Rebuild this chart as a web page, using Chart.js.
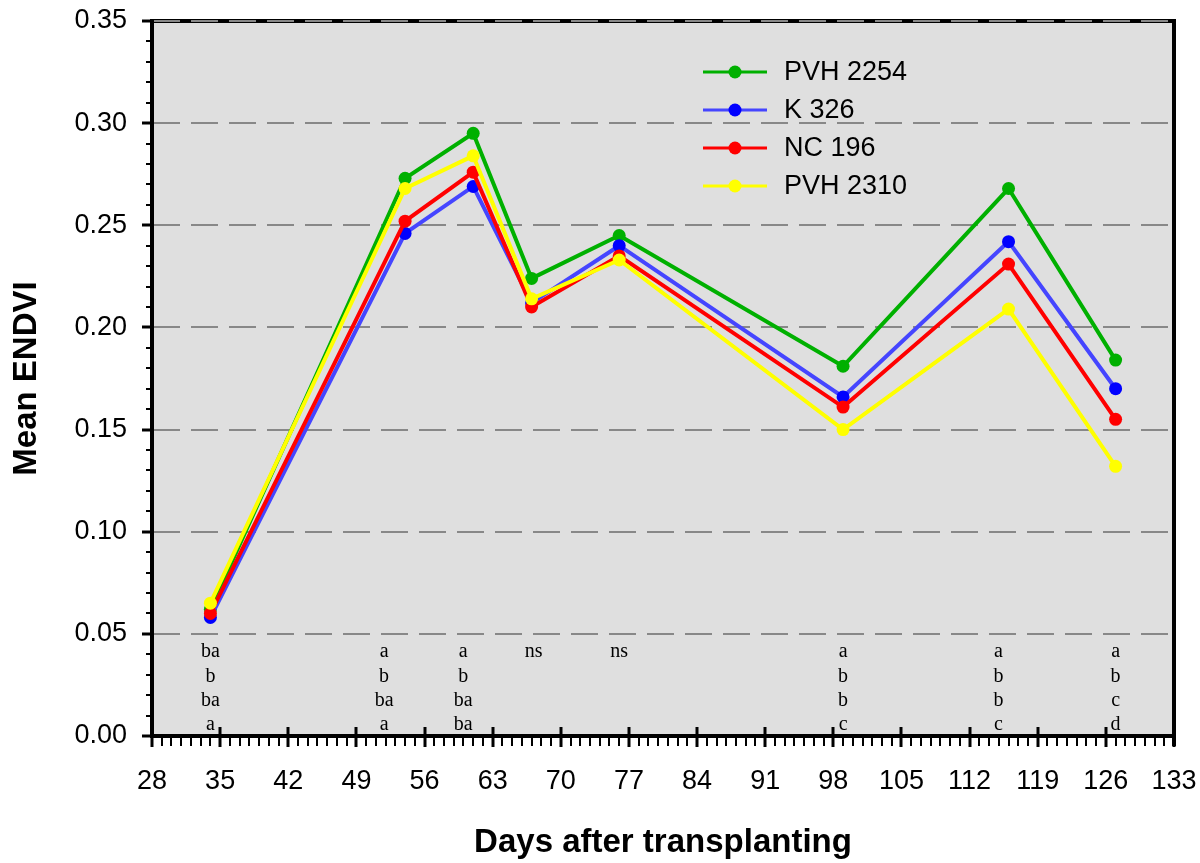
<!DOCTYPE html>
<html>
<head>
<meta charset="utf-8">
<script src="https://cdn.jsdelivr.net/npm/chart.js@4"></script>
<style>
  body { margin: 0; background: #fff; }
  canvas { display: block; }
</style>
</head>
<body>
<canvas id="endviChart" width="1200" height="863"></canvas>
<script>
// sampling days (days after transplanting)
var days = [34, 54, 61, 67, 76, 99, 116, 127];

// mean ENDVI per variety
var pvh2254 = [0.062, 0.273, 0.295, 0.224, 0.245, 0.181, 0.268, 0.184];
var k326    = [0.058, 0.246, 0.269, 0.212, 0.240, 0.166, 0.242, 0.170];
var nc196   = [0.060, 0.252, 0.276, 0.210, 0.235, 0.161, 0.231, 0.155];
var pvh2310 = [0.065, 0.268, 0.284, 0.214, 0.233, 0.150, 0.209, 0.132];

// mean separation letters for each sampling day
var sigLetters = [
  ['ba', 'b', 'ba', 'a'],
  ['a', 'b', 'ba', 'a'],
  ['a', 'b', 'ba', 'ba'],
  ['ns'],
  ['ns'],
  ['a', 'b', 'b', 'c'],
  ['a', 'b', 'b', 'c'],
  ['a', 'b', 'c', 'd']
];

var xMin = 28, xMax = 133, xStep = 7;
var yMin = 0, yMax = 0.35, yStep = 0.05;

function pts(vals) {
  return vals.map(function (v, i) { return { x: days[i], y: v }; });
}

var sansFont = "Arial, 'Liberation Sans', sans-serif";
var serifFont = "'Times New Roman', 'Liberation Serif', serif";

// grey plot background, frame and dashed grid
var plotFrame = {
  id: 'plotFrame',
  beforeDatasetsDraw: function (chart) {
    var c = chart.ctx, a = chart.chartArea, ys = chart.scales.y;
    c.save();
    c.fillStyle = '#dfdfdf';
    c.fillRect(a.left, a.top, a.right - a.left, a.bottom - a.top);

    c.strokeStyle = '#000';
    c.lineWidth = 4;
    c.beginPath();
    c.moveTo(a.left, a.top);
    c.lineTo(a.right, a.top);
    c.lineTo(a.right, a.bottom + 10);
    c.stroke();

    c.strokeStyle = '#888';
    c.lineWidth = 2;
    c.setLineDash([27, 11]);
    ys.ticks.forEach(function (t) {
      if (t.value <= yMin) return;
      var py = Math.round(ys.getPixelForValue(t.value));
      c.beginPath();
      c.moveTo(a.left + 1, py);
      c.lineTo(a.right - 2, py);
      c.stroke();
    });
    c.restore();
  },
  afterDatasetsDraw: function (chart) {
    var c = chart.ctx, a = chart.chartArea;
    var xs = chart.scales.x, ys = chart.scales.y;
    c.save();
    c.strokeStyle = '#000';

    // axis lines
    c.lineWidth = 4;
    c.beginPath();
    c.moveTo(a.left, a.top - 2);
    c.lineTo(a.left, a.bottom);
    c.lineTo(a.right + 2, a.bottom);
    c.stroke();

    // x ticks: minor every day, major every week
    var d, px;
    c.lineWidth = 2;
    for (d = xMin; d <= xMax; d++) {
      if ((d - xMin) % xStep === 0) continue;
      px = Math.round(xs.getPixelForValue(d));
      c.beginPath();
      c.moveTo(px, a.bottom);
      c.lineTo(px, a.bottom + 10);
      c.stroke();
    }
    c.lineWidth = 3;
    for (d = xMin; d <= xMax; d += xStep) {
      px = Math.round(xs.getPixelForValue(d));
      c.beginPath();
      c.moveTo(px, a.bottom - 9);
      c.lineTo(px, a.bottom + 11);
      c.stroke();
    }

    // y ticks: minor every 0.01, major every 0.05
    var k, py;
    for (k = 0; k <= 35; k++) {
      py = Math.round(ys.getPixelForValue(k / 100));
      var major = k % 5 === 0;
      c.lineWidth = major ? 3 : 2;
      c.beginPath();
      c.moveTo(a.left - (major ? 10 : 6), py);
      c.lineTo(a.left, py);
      c.stroke();
    }

    // letters under each sampling day
    var nudge = [0, -21, -10, 2, 0, 0, -10, 0];
    c.fillStyle = '#000';
    c.font = '20px ' + serifFont;
    c.textAlign = 'center';
    c.textBaseline = 'middle';
    var top = ys.getPixelForValue(0.05);
    sigLetters.forEach(function (col, i) {
      var lx = xs.getPixelForValue(days[i]) + nudge[i];
      col.forEach(function (txt, r) {
        c.fillText(txt, lx, top + 18 + r * 24.4);
      });
    });

    // legend
    var rowY = [72, 110, 148, 186];
    c.font = '27px ' + sansFont;
    c.textAlign = 'left';
    chart.data.datasets.forEach(function (ds, i) {
      var ly = rowY[i];
      c.strokeStyle = ds.borderColor;
      c.lineWidth = 3;
      c.beginPath();
      c.moveTo(703, ly);
      c.lineTo(767, ly);
      c.stroke();
      c.fillStyle = ds.pointBackgroundColor;
      c.beginPath();
      c.arc(735, ly, 6.5, 0, Math.PI * 2);
      c.fill();
      c.fillStyle = '#000';
      c.fillText(ds.label, 784, ly + 1);
    });
    c.restore();
  }
};

function series(label, vals, lineColor, dotColor, order) {
  return {
    label: label,
    data: pts(vals),
    borderColor: lineColor,
    borderWidth: 4,
    pointRadius: 6.5,
    pointBackgroundColor: dotColor,
    pointBorderWidth: 0,
    tension: 0,
    order: order
  };
}

// tick marks are drawn by the frame plugin; the library's ones only set label offset
var hiddenGrid = function (len) {
  return { display: true, drawOnChartArea: false, drawTicks: true, tickLength: len, tickColor: 'rgba(0,0,0,0)' };
};

var ctx = document.getElementById('endviChart').getContext('2d');
var endviChart = new Chart(ctx, {
  type: 'line',
  data: {
    datasets: [
      series('PVH 2254', pvh2254, '#00b000', '#00b000', 4),
      series('K 326', k326, '#4545ff', '#0000ff', 3),
      series('NC 196', nc196, '#ff0000', '#ff0000', 2),
      series('PVH 2310', pvh2310, '#ffff00', '#ffff00', 1)
    ]
  },
  options: {
    responsive: false,
    animation: false,
    layout: { padding: { top: 21, right: 26, bottom: 0, left: 0 } },
    plugins: {
      legend: { display: false },
      tooltip: { enabled: false }
    },
    scales: {
      x: {
        type: 'linear',
        min: xMin,
        max: xMax,
        afterFit: function (s) { s.height = 127; },
        grid: hiddenGrid(29),
        border: { display: false },
        ticks: {
          stepSize: xStep,
          autoSkip: false,
          maxRotation: 0,
          padding: 0,
          color: '#000',
          font: { family: sansFont, size: 27 }
        },
        title: {
          display: true,
          text: 'Days after transplanting',
          color: '#000',
          padding: { top: 0, bottom: 0 },
          font: { family: sansFont, size: 33, weight: 'bold' }
        }
      },
      y: {
        min: yMin,
        max: yMax,
        afterFit: function (s) { s.width = 152; },
        grid: hiddenGrid(25),
        border: { display: false },
        ticks: {
          stepSize: yStep,
          padding: 0,
          color: '#000',
          font: { family: sansFont, size: 27 },
          callback: function (v) { return v.toFixed(2); }
        },
        title: {
          display: true,
          text: 'Mean ENDVI',
          color: '#000',
          padding: { top: 7, bottom: 0 },
          font: { family: sansFont, size: 33, weight: 'bold' }
        }
      }
    }
  },
  plugins: [plotFrame]
});
</script>
</body>
</html>
